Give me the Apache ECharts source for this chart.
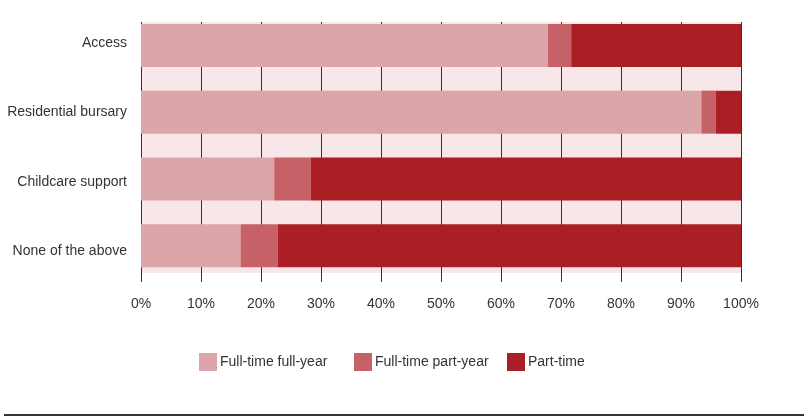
<!DOCTYPE html>
<html>
<head>
    <meta charset="UTF-8">
    <title>Student mode by support type</title>
    <script src="https://cdn.jsdelivr.net/npm/echarts@6/dist/echarts.min.js"></script>
    <style>
        html, body {
            margin: 0;
            padding: 0;
            background: #fff;
        }

        #chart {
            width: 808px;
            height: 420px;
        }
    </style>
</head>
<body>
<div id="chart"></div>

<script>
    // data (share of students, %)
    const categories = ['Access', 'Residential bursary', 'Childcare support', 'None of the above'];
    const fullTimeFullYear = [67.8, 93.4, 22.2, 16.6];
    const fullTimePartYear = [3.9, 2.4, 6.1, 6.2];
    const partTime = [28.3, 4.2, 71.7, 77.2];
    const seriesNames = ['Full-time full-year', 'Full-time part-year', 'Part-time'];
    const xTicks = [0, 10, 20, 30, 40, 50, 60, 70, 80, 90, 100];

    const colors = ['#dca5a9', '#c66167', '#ab1e24'];
    const font = '"Liberation Sans", Arial, Helvetica, sans-serif';

    const chart = echarts.init(document.getElementById('chart'));

    function barSeries(name, values, color) {
        return {
            name: name,
            type: 'bar',
            stack: 'total',
            xAxisIndex: 1,
            yAxisIndex: 1,
            barWidth: 43,
            itemStyle: { color: color },
            emphasis: { disabled: true },
            data: values
        };
    }

    function legendAt(name, left) {
        return {
            data: [name],
            left: left,
            top: 353,
            itemWidth: 18,
            itemHeight: 18,
            itemGap: 0,
            padding: 0,
            icon: 'rect',
            selectedMode: false,
            textStyle: { fontFamily: font, fontSize: 14, color: '#333', padding: [0, 0, 0, -2] }
        };
    }

    const option = {
        animation: false,
        color: colors,
        grid: [
            // pink background with the vertical lines
            {
                left: 141, right: 67, top: 22, bottom: 147,
                show: true, backgroundColor: '#f8e7e9', borderWidth: 0
            },
            // bars
            { left: 141, right: 67, top: 12, bottom: 141 },
            // category labels
            { left: 141, right: 67, top: 8, bottom: 134 }
        ],
        xAxis: [
            {
                gridIndex: 0,
                type: 'value',
                min: xTicks[0],
                max: xTicks[xTicks.length - 1],
                interval: 10,
                axisLine: { show: false },
                axisTick: { show: true, length: 9, lineStyle: { color: '#333', width: 1 } },
                splitLine: { show: true, lineStyle: { color: '#333', width: 1 } },
                axisLabel: {
                    margin: 24,
                    fontFamily: font,
                    fontSize: 14,
                    color: '#333',
                    formatter: '{value}%'
                }
            },
            { gridIndex: 1, type: 'value', min: 0, max: 100, show: false },
            { gridIndex: 2, type: 'value', min: 0, max: 100, show: false }
        ],
        yAxis: [
            { gridIndex: 0, type: 'category', data: categories, inverse: true, show: false },
            { gridIndex: 1, type: 'category', data: categories, inverse: true, show: false },
            {
                gridIndex: 2,
                type: 'category',
                data: categories,
                inverse: true,
                axisLine: { show: false },
                axisTick: { show: false },
                splitLine: { show: false },
                axisLabel: { margin: 14, fontFamily: font, fontSize: 14, color: '#333' }
            }
        ],
        legend: [
            legendAt(seriesNames[0], 199),
            legendAt(seriesNames[1], 354),
            legendAt(seriesNames[2], 507)
        ],
        graphic: [
            {
                type: 'line',
                shape: { x1: 4, y1: 415, x2: 804, y2: 415 },
                style: { stroke: '#333', lineWidth: 2 }
            }
        ],
        series: [
            barSeries(seriesNames[0], fullTimeFullYear, colors[0]),
            barSeries(seriesNames[1], fullTimePartYear, colors[1]),
            barSeries(seriesNames[2], partTime, colors[2])
        ]
    };

    chart.setOption(option);
</script>
</body>
</html>
